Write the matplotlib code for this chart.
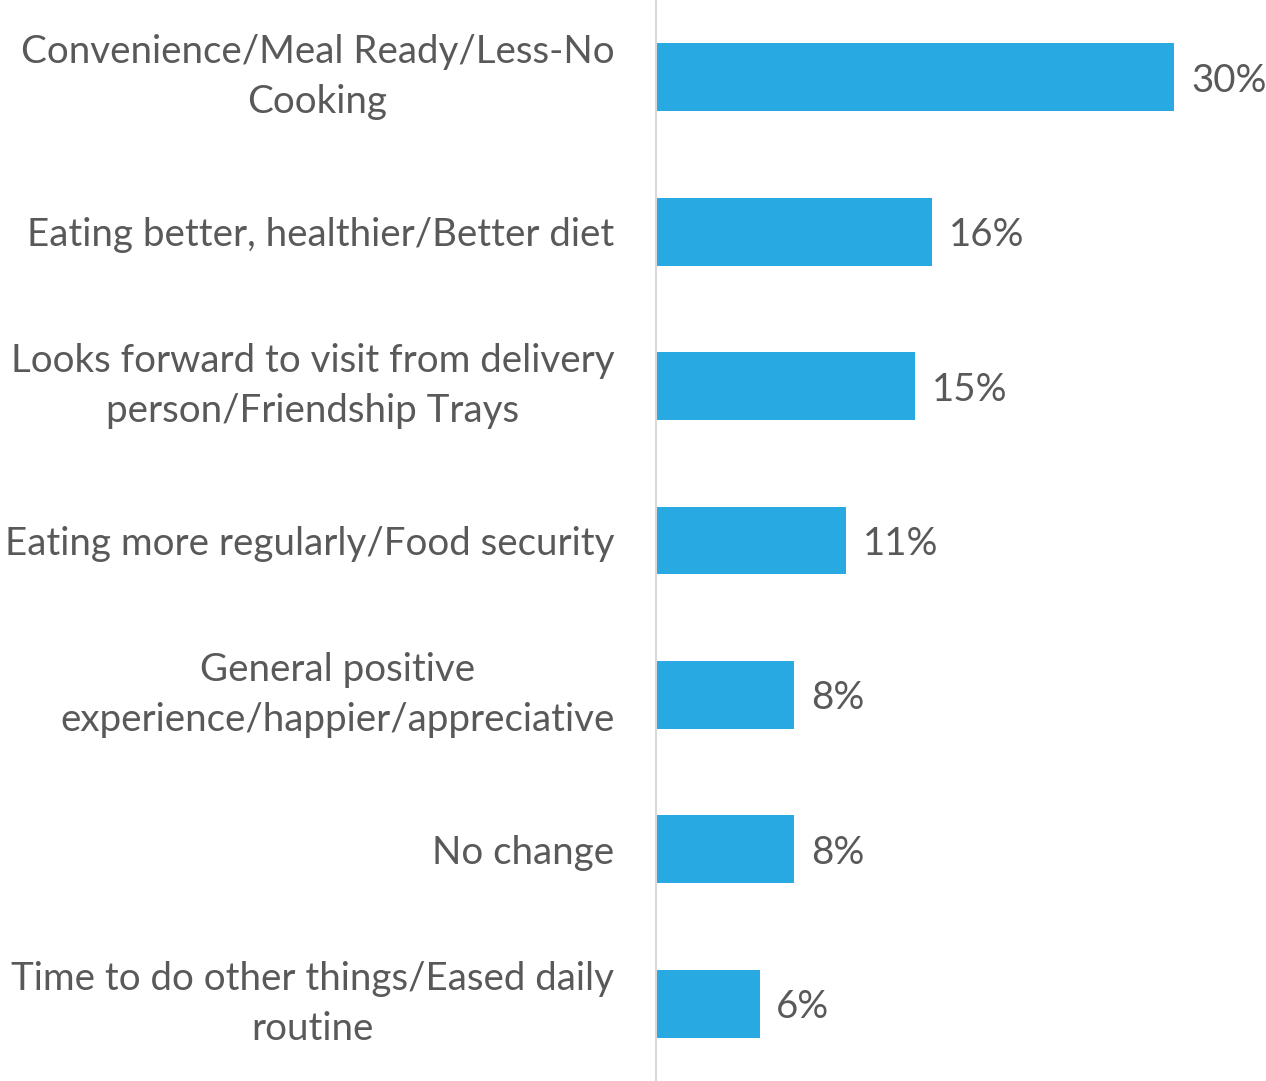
import matplotlib.pyplot as plt

# reasons reported, top to bottom
reasons = [
    "Convenience/Meal Ready/Less-No\nCooking",
    "Eating better, healthier/Better diet",
    "Looks forward to visit from delivery\nperson/Friendship Trays",
    "Eating more regularly/Food security",
    "General positive\nexperience/happier/appreciative",
    "No change",
    "Time to do other things/Eased daily\nroutine",
]
percents = [30, 16, 15, 11, 8, 8, 6]

bar_color = "#29A9E1"
text_color = "#595959"

plt.rcParams['font.family'] = ['Lato', 'DejaVu Sans']

fig = plt.figure(figsize=(12.66, 10.81), dpi=100)
ax = fig.add_axes([656 / 1266, 0.0, 1 - 656 / 1266, 1.0])

ypos = list(range(len(reasons)))
ax.barh(ypos, percents, height=0.44, color=bar_color)
ax.set_ylim(len(reasons) - 0.5, -0.5)
ax.set_xlim(0, 35.3)

for y, v in zip(ypos, percents):
    ax.annotate(f"{v}%", (v, y), xytext=(12, 0), textcoords="offset points",
                ha="left", va="center_baseline", fontsize=27.7, color=text_color)

ax.set_yticks(ypos)
ax.set_yticklabels(reasons, fontsize=27.7, color=text_color, linespacing=1.5,
                   ha="right", multialignment="center")
# two-line labels sit centred on their bar
for lbl in ax.get_yticklabels():
    if "\n" in lbl.get_text():
        lbl.set_va("center")
ax.tick_params(axis="y", length=0, pad=30)
ax.set_xticks([])

for side in ["top", "right", "bottom"]:
    ax.spines[side].set_visible(False)
ax.spines["left"].set_color("#D9D9D9")
ax.spines["left"].set_linewidth(1.5)

fig.savefig("out.png", dpi=100)
